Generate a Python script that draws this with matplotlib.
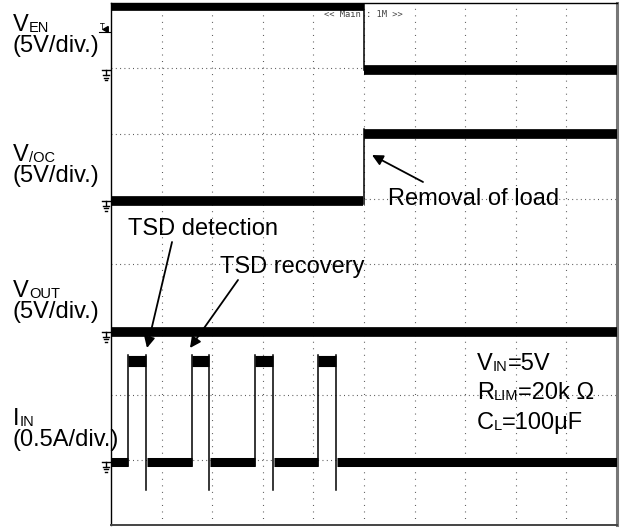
import matplotlib
matplotlib.use("Agg")
import matplotlib.pyplot as plt
from matplotlib.lines import Line2D

plt.rcParams['font.family'] = ['Liberation Sans', 'DejaVu Sans']
plt.rcParams['lines.scale_dashes'] = False

# Datos de las trazas (divisiones: x 0..10, y 0..8)
t_carga = 5.0                  # instante en que se quita la carga
ven_niveles = [7.95, 6.97]     # V_EN antes / despues
voc_niveles = [4.97, 5.99]     # V_/OC antes / despues
vout_nivel = 2.96
iin_subida = [0.33, 1.595, 2.846, 4.09]
iin_bajada = [0.684, 1.937, 3.20, 4.447]
iin_base = 0.966
iin_alto = 2.52
iin_pico = 0.536
ceros = [6.97, 4.97, 2.96, 0.966]   # marcas de tierra de cada canal

W, H = 623, 531
fig = plt.figure(figsize=(W / 100, H / 100), dpi=100)
ax = fig.add_axes([111 / W, 1 - 525 / H, (617 - 111) / W, (525 - 3) / H])
ax.set_xlim(0, 10)
ax.set_ylim(0, 8)
ax.set_xticks([])
ax.set_yticks([])
for s in ax.spines.values():
    s.set_linewidth(1.0)
ax.spines['right'].set_color('#777777')
ax.spines['right'].set_linewidth(2.2)
ax.spines['bottom'].set_color('#444444')
ax.spines['bottom'].set_linewidth(1.4)

# Reticula punteada
for gx in range(1, 10):
    ax.axvline(gx, color='#555555', lw=0.8, dashes=(0.7, 4.0), zorder=1)
for gy in range(1, 8):
    ax.axhline(gy, color='#555555', lw=0.8, dashes=(0.7, 2.4), zorder=1)

banda = dict(color='k', lw=7, solid_capstyle='butt', zorder=3)
fino = dict(color='k', lw=1.1, zorder=3)

# V_EN
ax.plot([0, t_carga], [ven_niveles[0]] * 2, **banda)
ax.plot([t_carga, 10], [ven_niveles[1]] * 2, **banda)
ax.plot([t_carga, t_carga], [8, ven_niveles[1]], **fino)

# V_/OC
ax.plot([0, t_carga - 0.02], [voc_niveles[0]] * 2, **banda)
ax.plot([t_carga, 10], [voc_niveles[1]] * 2, **banda)
ax.plot([t_carga, t_carga], [voc_niveles[0] - 0.05, voc_niveles[1] + 0.08], **fino)

# V_OUT
ax.plot([0, 10], [vout_nivel] * 2, **banda)

# I_IN
inicio = [0] + [b + 0.02 for b in iin_bajada]
fin = iin_subida + [10]
for a, b in zip(inicio, fin):
    ax.plot([a, b], [iin_base] * 2, color='k', lw=6.5, solid_capstyle='butt', zorder=3)
for a, b in zip(iin_subida, iin_bajada):
    ax.plot([a, b], [iin_alto] * 2, color='k', lw=8, solid_capstyle='butt', zorder=3)
    ax.plot([a, a], [iin_base - 0.06, iin_alto + 0.09], **fino)
    ax.plot([b, b], [iin_alto + 0.09, iin_pico], **fino)

# Marcas de tierra a la izquierda
px = 1 / 50.6
py = 1 / 65.25
for c in ceros:
    kw = dict(color='k', lw=1.0, clip_on=False, zorder=4)
    ax.plot([-9 * px, -1 * px], [c, c], **kw)
    ax.plot([-5 * px, -5 * px], [c, c - 5 * py], **kw)
    ax.plot([-8 * px, -2 * px], [c - 5 * py] * 2, **kw)
    ax.plot([-7 * px, -3 * px], [c - 7.5 * py] * 2, **kw)
    ax.plot([-6 * px, -4 * px], [c - 10 * py] * 2, **kw)

# Marca de disparo
fig.text(100 / W, 1 - 30 / H, 'T', fontsize=5.5, family='DejaVu Sans', va='baseline')
ax.plot([-5 * px], [(525 - 29) / 65.25], marker=(3, 0, -30), color='k',
        markersize=5, clip_on=False, zorder=4)
fig.add_artist(Line2D([99 / W, 110 / W], [1 - 31.5 / H] * 2, color='k', lw=0.8))

ax.text(4.2, 7.82, '<< Main : 1M >>', fontsize=6.3, family='DejaVu Sans Mono',
        color='#444444', va='center', ha='left', zorder=2)

FS = 17
FSUB = 10.5


def etiqueta(x, y, base, sub, resto=None, tam=FS, tsub=FSUB, en_fig=True):
    if en_fig:
        t = fig.text(x / W, 1 - y / H, base, fontsize=tam, va='baseline', ha='left')
    else:
        t = ax.text(x, y, base, fontsize=tam, va='baseline', ha='left', zorder=5)
    s = ax.annotate(sub, xy=(1, 0.04), xycoords=t, va='bottom', ha='left',
                    fontsize=tsub, annotation_clip=False)
    if resto:
        ax.annotate(resto, xy=(1, 0), xycoords=(s, t), va='bottom', ha='left',
                    fontsize=tam, annotation_clip=False)
    return t


etiqueta(13, 31, 'V', 'EN')
fig.text(13 / W, 1 - 52 / H, '(5V/div.)', fontsize=FS, va='baseline')
etiqueta(13, 161, 'V', '/OC')
fig.text(13 / W, 1 - 182 / H, '(5V/div.)', fontsize=FS, va='baseline')
etiqueta(13, 297, 'V', 'OUT')
fig.text(13 / W, 1 - 318 / H, '(5V/div.)', fontsize=FS, va='baseline')
etiqueta(13, 425, 'I', 'IN')
fig.text(13 / W, 1 - 446 / H, '(0.5A/div.)', fontsize=FS, va='baseline')

# Anotaciones
ax.text(5.474, 4.904, 'Removal of load', fontsize=FS, va='baseline', zorder=5)
ax.text(0.336, 4.444, 'TSD detection', fontsize=FS, va='baseline', zorder=5)
ax.text(2.154, 3.862, 'TSD recovery', fontsize=FS, va='baseline', zorder=5)

flecha = dict(arrowstyle='-|>', color='k', lw=1.3, mutation_scale=16,
              shrinkA=0, shrinkB=0)
ax.annotate('', xy=(5.158, 5.670), xytext=(6.166, 5.257), arrowprops=flecha, zorder=5)
ax.annotate('', xy=(0.711, 2.713), xytext=(1.206, 4.337), arrowprops=flecha, zorder=5)
ax.annotate('', xy=(1.561, 2.713), xytext=(2.51, 3.755), arrowprops=flecha, zorder=5)

etiqueta(7.233, 2.375, 'V', 'IN', '=5V', en_fig=False)
etiqueta(7.233, 1.931, 'R', 'LIM', '=20k Ω', en_fig=False)
etiqueta(7.233, 1.471, 'C', 'L', '=100μF', en_fig=False)

fig.savefig('out.png', dpi=100)
